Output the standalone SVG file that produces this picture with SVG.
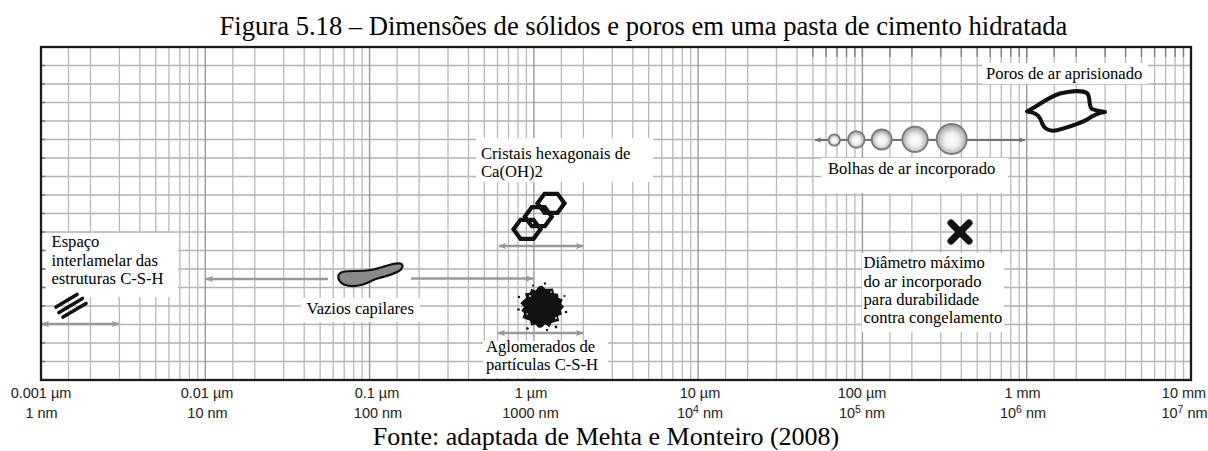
<svg xmlns="http://www.w3.org/2000/svg" width="1208" height="451" viewBox="0 0 1208 451">
  <style>
    .serif { font-family: "Liberation Serif", "Times New Roman", serif; fill: #000; }
    .lbl { font-size: 16.6px; }
    .big { font-size: 26.6px; }
    .axis { font-family: "Liberation Sans", Arial, sans-serif; font-size: 14.5px; fill: #222; text-anchor: middle; }
    .grid-minor { stroke: #b9b9b9; stroke-width: 1.3; fill: none; }
    .grid-major { stroke: #999; stroke-width: 1.4; fill: none; }
    .grid-h { stroke: #b3b3b3; stroke-width: 1.3; fill: none; }
    .tick { stroke: #7a7a7a; stroke-width: 1.3; fill: none; }
    .box { fill: #fff; stroke: none; }
    .arrow { stroke: #999; stroke-width: 2.6; fill: none; marker-start: url(#headL); marker-end: url(#headL); }
    .arrow-one { stroke: #999; stroke-width: 2.6; fill: none; marker-end: url(#headL); }
    .arrow-dark { stroke: #727272; stroke-width: 2; fill: none; marker-start: url(#headD); marker-end: url(#headD); }
    .bubble { fill: url(#bubFill); stroke: #7a7a7a; stroke-width: 1.8; }
  </style>
  <defs>
    <marker id="headL" viewBox="0 0 10 10" refX="9" refY="5" markerWidth="9" markerHeight="8" markerUnits="userSpaceOnUse" orient="auto-start-reverse">
      <path d="M0,1 L10,5 L0,9 L2.5,5 z" fill="#999"/>
    </marker>
    <marker id="headD" viewBox="0 0 10 10" refX="9" refY="5" markerWidth="8" markerHeight="7" markerUnits="userSpaceOnUse" orient="auto-start-reverse">
      <path d="M0,1 L10,5 L0,9 L2.5,5 z" fill="#727272"/>
    </marker>
    <radialGradient id="bubFill" cx="0.5" cy="0.55" r="0.55">
      <stop offset="0" stop-color="#ffffff"/>
      <stop offset="0.45" stop-color="#eeeeee"/>
      <stop offset="1" stop-color="#9a9a9a"/>
    </radialGradient>
  </defs>

  <rect width="1208" height="451" fill="#fff"/>

  <!-- title -->
  <text class="serif big" x="643.5" y="35" text-anchor="middle">Figura 5.18 – Dimensões de sólidos e poros em uma pasta de cimento hidratada</text>

  <!-- logarithmic grid: 7 decades from 0.001 µm to 10 mm -->
  <g id="grid">
    <path class="grid-h" d="M41,65.5H1191M41,84H1191M41,102.5H1191M41,121H1191M41,139.5H1191M41,158H1191M41,176.5H1191M41,195H1191M41,213.5H1191M41,232H1191M41,250.5H1191M41,269H1191M41,287.5H1191M41,306H1191M41,324.5H1191M41,343H1191M41,361.5H1191"/>
    <path class="grid-minor" d="
      M68.5,47V380M90.5,47V380M119.4,47V380M139.9,47V380M155.8,47V380M168.9,47V380M179.9,47V380M189.4,47V380M197.8,47V380
      M232.8,47V380M254.8,47V380M283.7,47V380M304.2,47V380M320.1,47V380M333.2,47V380M344.2,47V380M353.7,47V380M362.1,47V380
      M397.1,47V380M419.1,47V380M448,47V380M468.5,47V380M484.4,47V380M497.5,47V380M508.5,47V380M518,47V380M526.4,47V380
      M561.4,47V380M583.4,47V380M612.3,47V380M632.8,47V380M648.7,47V380M661.8,47V380M672.8,47V380M682.3,47V380M690.7,47V380
      M725.6,47V380M747.6,47V380M776.5,47V380M797,47V380M812.9,47V380M826,47V380M837,47V380M846.5,47V380M854.9,47V380
      M889.9,47V380M911.9,47V380M940.8,47V380M961.3,47V380M977.2,47V380M990.3,47V380M1001.3,47V380M1010.8,47V380M1019.2,47V380
      M1054.2,47V380M1076.2,47V380M1105.1,47V380M1125.6,47V380M1141.5,47V380M1154.6,47V380M1165.6,47V380M1175.1,47V380M1183.5,47V380"/>
    <path class="grid-major" d="M205.3,47V380M369.6,47V380M533.9,47V380M698.1,47V380M862.4,47V380M1026.7,47V380"/>
    <path class="tick" d="M812.9,48V57M826,48V57M837,48V57M846.5,48V57M854.9,48V57M862.4,48V57M889.9,48V57M911.9,48V57M940.8,48V57M961.3,48V57M977.2,48V57M990.3,48V57M1001.3,48V57M1010.8,48V57M1019.2,48V57M1026.7,48V57M1054.2,48V57M1076.2,48V57M1105.1,48V57M1125.6,48V57M1141.5,48V57M1154.6,48V57M1165.6,48V57M1175.1,48V57M1183.5,48V57"/>
    <path class="tick" d="M41,65.5H45M41,84H45M41,102.5H45M41,121H45M41,139.5H45M41,158H45M41,176.5H45M41,195H45M41,213.5H45M41,232H45M41,250.5H45M41,269H45M41,287.5H45M41,306H45M41,324.5H45M41,343H45M41,361.5H45"/>
  </g>

  <!-- size ranges -->
  <g id="connectors">
    <line class="arrow" x1="42" y1="324" x2="119" y2="324"/>
    <line class="arrow-one" x1="328" y1="279" x2="206" y2="279"/>
    <line class="arrow-one" x1="411" y1="278.5" x2="533" y2="278.5"/>
    <line class="arrow" x1="499" y1="246" x2="583" y2="246"/>
    <line class="arrow" x1="498" y1="333" x2="583" y2="333"/>
    <line class="arrow-dark" x1="815" y1="140" x2="1025" y2="140"/>
  </g>

  <g id="espaco-interlamelar">
    <rect class="box" x="46" y="233" width="132" height="64"/>
    <text class="serif lbl" x="51.5" y="247">Espaço</text>
    <text class="serif lbl" x="51.5" y="265.7">interlamelar das</text>
    <text class="serif lbl" x="51.5" y="284.4">estruturas C-S-H</text>
    <g stroke="#111" stroke-width="3.6" stroke-linecap="round">
      <line x1="56" y1="307" x2="77" y2="294.5"/>
      <line x1="59" y1="312.5" x2="82.5" y2="298.5"/>
      <line x1="63" y1="317" x2="86" y2="303.5"/>
    </g>
  </g>

  <g id="vazios-capilares">
    <rect class="box" x="301" y="298" width="119" height="24"/>
    <text class="serif lbl" x="306.5" y="314.3">Vazios capilares</text>
    <path d="M338.3,276 C339,271.5 345,270.8 356.7,271 C366,271 374,270 383.3,266.7 C390,264.5 396,262.5 400.5,263.5 C404,265 402.5,269 399,271 C393,274.5 385,276.5 378.3,278.3 C372,280 368,283 362,284.8 C356,286.5 349,286.5 344,284.5 C340,282.5 338,279.5 338.3,276 Z" fill="#8a8a8a" stroke="#111" stroke-width="2.2" stroke-linejoin="round"/>
  </g>

  <g id="cristais-hexagonais">
    <rect class="box" x="476" y="138" width="177" height="44"/>
    <text class="serif lbl" x="481" y="159">Cristais hexagonais de</text>
    <text class="serif lbl" x="481" y="176.7">Ca(OH)2</text>
    <g fill="none" stroke="#111" stroke-width="4.2">
      <polygon points="513.5,229.3 520.5,219.8 533.5,219.8 540.5,229.3 533.5,238.8 520.5,238.8"/>
      <polygon points="524.8,216.7 531.8,207.2 544.8,207.2 551.8,216.7 544.8,226.2 531.8,226.2"/>
      <polygon points="537.5,203.3 544.5,193.8 557.5,193.8 564.5,203.3 557.5,212.8 544.5,212.8"/>
    </g>
  </g>

  <g id="aglomerados-csh">
    <rect class="box" x="483" y="341" width="125" height="37"/>
    <text class="serif lbl" x="486" y="351.7">Aglomerados de</text>
    <text class="serif lbl" x="486" y="370">partículas C-S-H</text>
    <g fill="#111">
      <path d="M564,307 L560.7,310.2 L562.2,314.2 L558,316 L559.2,321.1 L554.9,321.9 L551.5,323 L549.5,327.2 L545.1,324.2 L542,327.5 L538.3,327.7 L535.5,324.4 L531,325.6 L530.1,320.8 L526.7,319.5 L522.5,318 L524.1,313.3 L521.3,310.6 L524,307 L520.3,303.3 L523.2,300.3 L526,298 L525.1,293.2 L529.8,292.8 L531.3,288.8 L535.8,290.5 L538.3,286.8 L542,285.5 L545.3,288.8 L548.8,288.7 L553,288.4 L553.9,293.2 L558.1,293.8 L558.5,297.8 L562.7,299.6 L561.2,303.7 Z"/>
      <circle cx="566" cy="312" r="1.3"/>
      <circle cx="519" cy="297" r="1.2"/>
      <circle cx="527.5" cy="328.5" r="1.3"/>
      <circle cx="556" cy="327" r="1.4"/>
      <circle cx="545" cy="283.5" r="1.2"/>
      <circle cx="518.5" cy="309.5" r="1.3"/>
      <circle cx="564.5" cy="296" r="1.1"/>
      <circle cx="533" cy="285.5" r="1.1"/>
      <circle cx="547" cy="330" r="1.2"/>
    </g>
    <g fill="#fff">
      <circle cx="530" cy="296" r="0.9"/>
      <circle cx="556" cy="318" r="0.9"/>
      <circle cx="527" cy="314" r="0.8"/>
      <circle cx="551" cy="292" r="0.8"/>
    </g>
  </g>

  <g id="bolhas-ar-incorporado">
    <rect class="box" x="821" y="158" width="187" height="35"/>
    <text class="serif lbl" x="828" y="174">Bolhas de ar incorporado</text>
    <circle class="bubble" cx="834.3" cy="140" r="5.7"/>
    <circle class="bubble" cx="856.3" cy="139.5" r="8.3"/>
    <circle class="bubble" cx="881.7" cy="139.5" r="10"/>
    <circle class="bubble" cx="915" cy="139.3" r="12.7"/>
    <circle class="bubble" cx="951.7" cy="139" r="15"/>
  </g>

  <g id="poros-ar-aprisionado">
    <rect class="box" x="982" y="63" width="166" height="21"/>
    <text class="serif lbl" x="986" y="79">Poros de ar aprisionado</text>
    <path d="M1027,111.5 C1038,106 1048,97 1060,93.5 C1070,91 1082,90 1087,93 C1091,97 1088,106 1092,109 C1096,111 1101,111 1105,112 C1097,113 1092,116 1088,119 C1080,124 1068,127 1058,130 C1050,132 1044,129 1042,123 C1040,117 1038,113 1027,111.5 Z" fill="none" stroke="#111" stroke-width="4" stroke-linejoin="round"/>
  </g>

  <g id="diametro-maximo">
    <rect class="box" x="862" y="253" width="142" height="79"/>
    <text class="serif lbl" x="863.5" y="268.3">Diâmetro máximo</text>
    <text class="serif lbl" x="863.5" y="286.7">do ar incorporado</text>
    <text class="serif lbl" x="863.5" y="305">para durabilidade</text>
    <text class="serif lbl" x="863.5" y="323.3">contra congelamento</text>
    <g stroke="#111" stroke-width="7" stroke-linecap="round">
      <line x1="951" y1="223" x2="969" y2="241"/>
      <line x1="969" y1="223" x2="951" y2="241"/>
    </g>
  </g>

  <!-- plot frame -->
  <rect id="frame" x="41" y="47" width="1150" height="333" fill="none" stroke="#1a1a1a" stroke-width="2.3"/>

  <!-- scale labels -->
  <g id="axis-labels">
    <text class="axis" x="41" y="398">0.001 µm</text>
    <text class="axis" x="41.5" y="418">1 nm</text>
    <text class="axis" x="207" y="398">0.01 µm</text>
    <text class="axis" x="207.5" y="418">10 nm</text>
    <text class="axis" x="377" y="398">0.1 µm</text>
    <text class="axis" x="378" y="418">100 nm</text>
    <text class="axis" x="531" y="398">1 µm</text>
    <text class="axis" x="530.5" y="418">1000 nm</text>
    <text class="axis" x="700" y="398">10 µm</text>
    <text class="axis" x="700" y="418">10<tspan font-size="10.5" dy="-5">4</tspan><tspan dy="5"> nm</tspan></text>
    <text class="axis" x="862" y="398">100 µm</text>
    <text class="axis" x="862" y="418">10<tspan font-size="10.5" dy="-5">5</tspan><tspan dy="5"> nm</tspan></text>
    <text class="axis" x="1022.5" y="398">1 mm</text>
    <text class="axis" x="1023" y="418">10<tspan font-size="10.5" dy="-5">6</tspan><tspan dy="5"> nm</tspan></text>
    <text class="axis" x="1184" y="398">10 mm</text>
    <text class="axis" x="1184.5" y="418">10<tspan font-size="10.5" dy="-5">7</tspan><tspan dy="5"> nm</tspan></text>
  </g>

  <text class="serif" x="606" y="445" text-anchor="middle" font-size="26">Fonte: adaptada de Mehta e Monteiro (2008)</text>
</svg>
